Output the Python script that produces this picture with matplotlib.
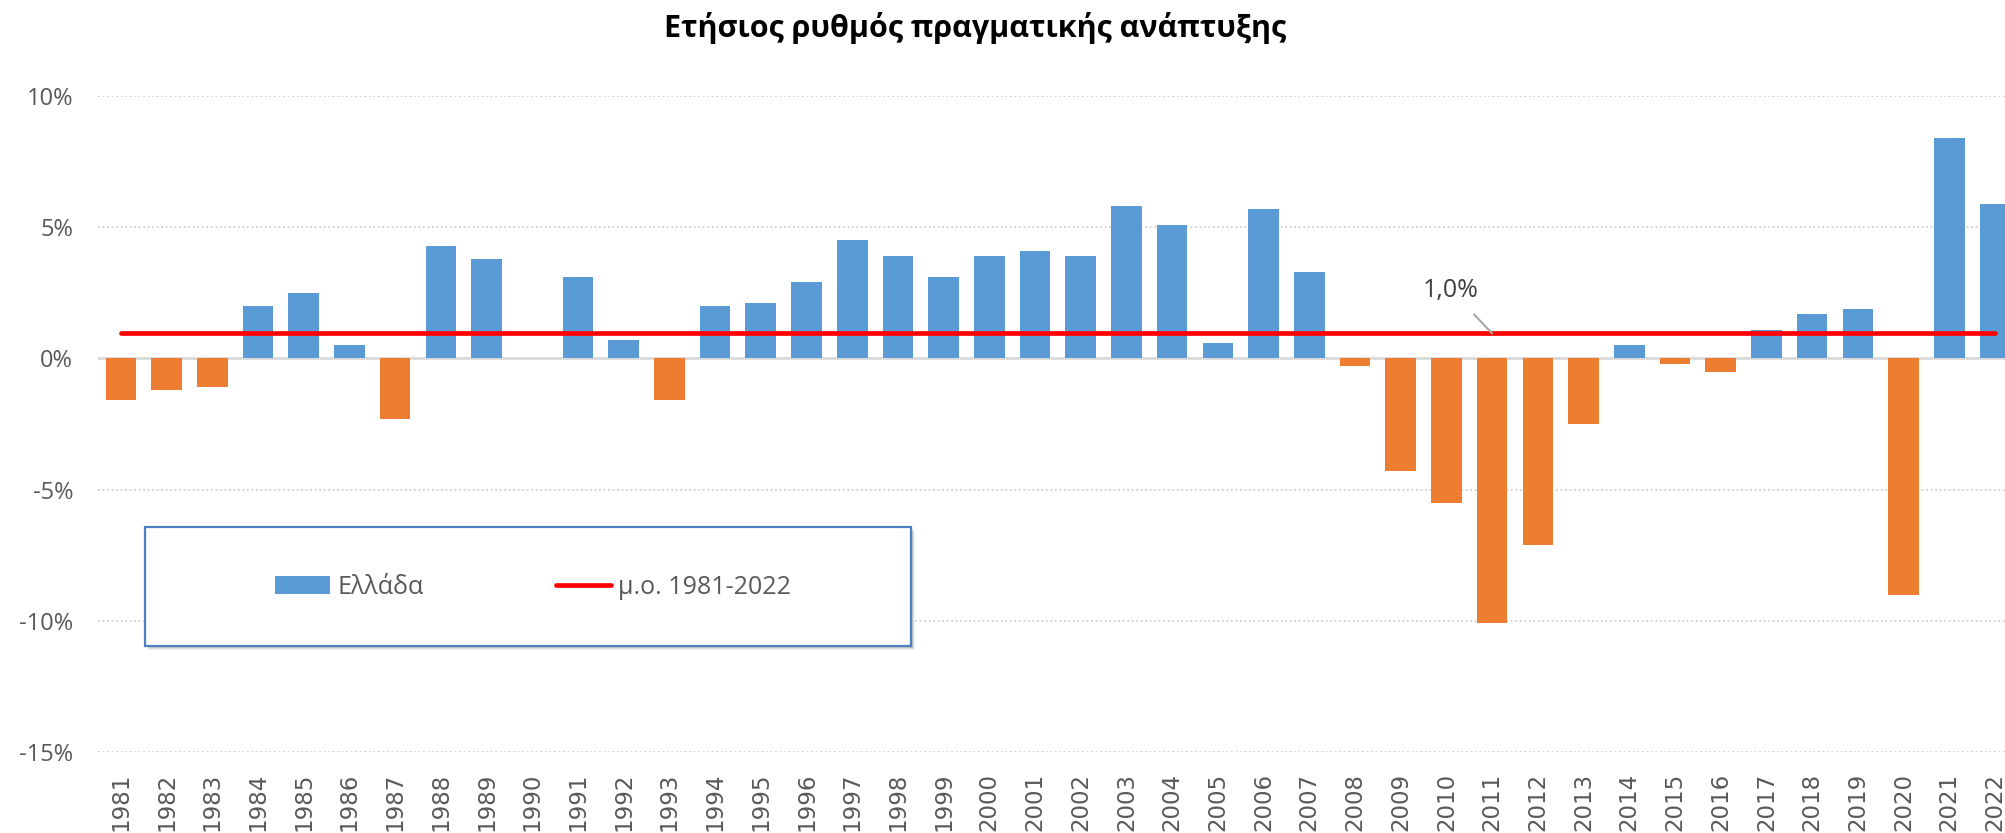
import numpy as np
import matplotlib.pyplot as plt
from matplotlib.patches import Patch, Rectangle

plt.rcParams['font.family'] = ['Open Sans', 'DejaVu Sans']

years = list(range(1981, 2023))
growth = [-1.6, -1.2, -1.1, 2.0, 2.5, 0.5, -2.3, 4.3, 3.8, 0.0,
          3.1, 0.7, -1.6, 2.0, 2.1, 2.9, 4.5, 3.9, 3.1, 3.9,
          4.1, 3.9, 5.8, 5.1, 0.6, 5.7, 3.3, -0.3, -4.3, -5.5,
          -10.1, -7.1, -2.5, 0.5, -0.2, -0.5, 1.1, 1.7, 1.9, -9.0,
          8.4, 5.9]
yticks = [-15, -10, -5, 0, 5, 10]
title = 'Ετήσιος ρυθμός πραγματικής ανάπτυξης'
label_bar = 'Ελλάδα'
label_avg = 'μ.ο. 1981-2022'
label_year = 2011  # year where the excel data label sits

blue = '#5B9BD5'
orange = '#ED7D31'
grey_txt = '#595959'

avg = np.mean(growth)
colors = [blue if v >= 0 else orange for v in growth]

fig = plt.figure(figsize=(20.05, 8.33), dpi=100)
ax = fig.add_axes([98/2005, 81/833, 1.0 - 98/2005, 656/833])

ax.bar(years, growth, width=0.67, color=colors, zorder=2)
line, = ax.plot(years, [avg]*len(years), color='#FF0000', lw=3.4,
                solid_capstyle='round', zorder=3)

ax.set_ylim(-15, 10)
ax.set_xlim(1980.5, 2022.22)
ax.set_yticks(yticks)
ax.set_yticklabels([f'{v}%' for v in yticks])
ax.set_xticks(years)
ax.set_xticklabels([str(y) for y in years], rotation=90, family='DejaVu Sans')
ax.tick_params(axis='y', length=0, pad=18, labelsize=17, labelcolor=grey_txt)
ax.tick_params(axis='x', length=0, pad=15, labelsize=16.5, labelcolor=grey_txt)
for s in ax.spines.values():
    s.set_visible(False)

for v in yticks:
    if v == 0:
        ax.axhline(0, color='#D9D9D9', lw=2, zorder=1)
    else:
        ax.axhline(v, color='#D0D0D0', lw=1.3, ls=(0, (1, 1.5)), zorder=1)

ax.annotate(f'{avg:.1f}%'.replace('.', ','), xy=(label_year, avg),
            xytext=(label_year - 0.9, 2.6), ha='center', va='center',
            fontsize=18, color='#404040',
            arrowprops=dict(arrowstyle='-', color='#A6A6A6', lw=1.5,
                            shrinkA=9, shrinkB=0))

fig.text(975/2005, 1 - 28/833, title, ha='center', va='center',
         fontsize=22, fontweight='bold', color='black')

# legend box with shadow
bx, by, bw, bh = 145/2005, 187/833, 766/2005, 119/833
for i, a in enumerate([0.10, 0.08, 0.06]):
    d = (i + 2) / 2005
    ax.add_patch(Rectangle((bx + d, by - d*2005/833), bw, bh,
                           transform=fig.transFigure, facecolor='black',
                           alpha=a, edgecolor='none', zorder=7, clip_on=False))
ax.add_patch(Rectangle((bx, by), bw, bh, transform=fig.transFigure,
                       facecolor='white', edgecolor='#4F7FC0', lw=1.6,
                       zorder=8, clip_on=False))

handles = [Patch(facecolor=blue), line]
leg = ax.legend(handles, [label_bar, label_avg], ncol=2, frameon=False,
                loc='center', bbox_to_anchor=(533/2005, 1 - 587/833),
                bbox_transform=fig.transFigure, fontsize=18,
                handlelength=2.2, handletextpad=0.3, columnspacing=5.3,
                labelcolor=grey_txt)
leg.set_zorder(9)

fig.savefig('out.png', dpi=100)
